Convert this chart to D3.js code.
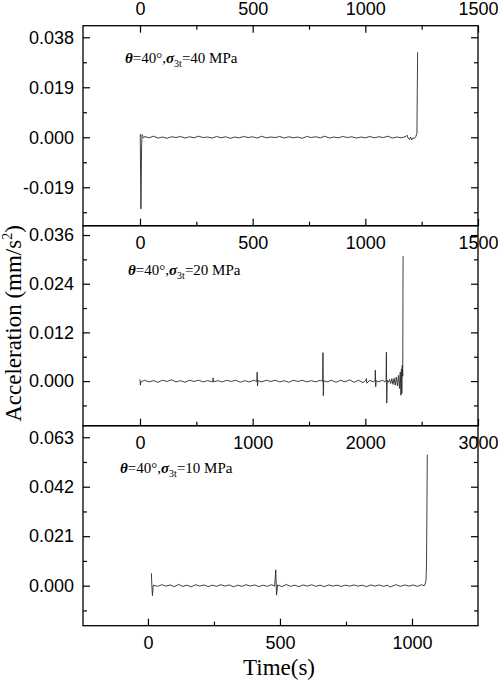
<!DOCTYPE html>
<html>
<head>
<meta charset="utf-8">
<script src="https://cdn.jsdelivr.net/npm/d3@7"></script>
<style>
  body { margin: 0; background: #fff; }
  svg { display: block; }
</style>
</head>
<body>
<div id="chart"></div>
<script>
// Acceleration traces, [time (s), acceleration (mm/s^2)]
const accel40 = [
  [1, 0.0013], [4, -0.0272], [7, -0.0040], [9, 0.0010], [12, 0.0004], [16, -0.0003],
  [20, 0.0003], [40, -0.0002], [60, 0.0004], [80, -0.0003], [100, 0.0001], [120, -0.0004],
  [140, 0.0002], [160, -0.0001], [180, 0.0003], [200, -0.0003], [220, 0.0002], [240, -0.0002],
  [260, 0.0004], [280, -0.0001], [300, 0.0001], [320, -0.0003], [340, 0.0003], [360, -0.0002],
  [380, 0.0002], [400, -0.0004], [420, 0.0001], [440, -0.0002], [460, 0.0003], [480, -0.0001],
  [500, 0.0002], [520, -0.0003], [540, 0.0004], [560, -0.0002], [580, 0.0001], [600, -0.0001],
  [620, 0.0003], [640, -0.0003], [660, 0.0002], [680, -0.0002], [700, 0.0001], [720, -0.0004],
  [740, 0.0003], [760, -0.0001], [780, 0.0002], [800, -0.0002], [820, 0.0004], [840, -0.0003],
  [860, 0.0001], [880, -0.0002], [900, 0.0003], [920, -0.0001], [940, 0.0002], [960, -0.0003],
  [980, 0.0001], [1000, -0.0002], [1020, 0.0003], [1040, -0.0002], [1060, 0.0002], [1080, -0.0001],
  [1100, 0.0004], [1120, -0.0003], [1140, 0.0001], [1160, -0.0002], [1180, 0.0003],
  [1185, 0.0008], [1190, -0.0003], [1196, -0.0009], [1201, 0.0001], [1206, -0.0010],
  [1212, -0.0002], [1218, -0.0004], [1224, 0.0003], [1229, 0.0015], [1232, 0.0323]
];

const accel20 = [
  [0, 0.0004], [3, -0.0010], [8, -0.0002], [40, 0.0002], [80, -0.0002], [120, 0.0001],
  [160, -0.0003], [200, 0.0002], [240, -0.0001], [280, 0.0003], [320, -0.0002], [360, 0.0001],
  [400, -0.0003], [440, 0.0002], [480, -0.0001], [520, 0.0002], [560, -0.0002], [600, 0.0001],
  [645, -0.0002], [649, 0.0008], [653, -0.0002], [690, 0.0001], [730, -0.0002], [770, 0.0002],
  [810, -0.0001], [850, 0.0002], [890, -0.0003], [930, 0.0001], [970, -0.0002], [1010, 0.0002],
  [1037, -0.0001], [1040, 0.0022], [1043, -0.0012], [1047, 0.0001], [1080, -0.0002], [1120, 0.0002],
  [1160, -0.0001], [1200, 0.0002], [1240, -0.0002], [1280, 0.0001], [1320, -0.0003], [1360, 0.0002],
  [1400, -0.0001], [1440, 0.0002], [1480, -0.0002], [1520, 0.0001], [1560, -0.0002], [1600, 0.0002],
  [1621, -0.0001], [1624, 0.0070], [1627, -0.0036], [1631, 0.0001], [1660, -0.0002], [1700, 0.0002],
  [1740, -0.0003], [1780, 0.0002], [1820, -0.0002], [1860, 0.0003], [1900, -0.0003], [1940, 0.0002],
  [1980, -0.0004], [2005, 0.0002], [2009, 0.0006], [2013, -0.0005], [2040, 0.0002], [2070, -0.0002],
  [2086, 0.0001], [2089, 0.0027], [2092, -0.0014], [2096, 0.0001], [2120, -0.0002], [2150, 0.0002],
  [2175, -0.0002], [2184, 0.0002], [2187, 0.0071], [2190, -0.0054], [2194, 0.0002], [2205, -0.0003],
  [2215, 0.0004], [2225, -0.0006], [2235, 0.0006], [2245, -0.0008], [2255, 0.0007], [2265, -0.0010],
  [2275, 0.0010], [2285, -0.0012], [2295, 0.0014], [2303, -0.0018], [2310, 0.0022], [2316, -0.0035],
  [2320, 0.0030], [2324, -0.0030], [2328, 0.0039], [2332, 0.0012], [2335, 0.0308]
];

const accel10 = [
  [13, 0.0053], [15, -0.0005], [17, -0.0042], [20, 0.0002], [36, -0.0003], [52, 0.0004],
  [68, -0.0002], [84, 0.0003], [100, -0.0004], [116, 0.0005], [132, -0.0003], [148, 0.0002],
  [164, -0.0005], [180, 0.0004], [196, -0.0002], [212, 0.0003], [228, -0.0004], [244, 0.0002],
  [260, -0.0003], [276, 0.0004], [292, -0.0002], [308, 0.0003], [324, -0.0005], [340, 0.0002],
  [356, -0.0003], [372, 0.0004], [388, -0.0002], [404, 0.0003], [420, -0.0004], [436, 0.0002],
  [452, -0.0003], [468, 0.0004], [480, -0.0002], [484, 0.0067], [487, -0.0040], [491, 0.0003],
  [508, -0.0004], [524, 0.0005], [540, -0.0003], [556, 0.0002], [572, -0.0004], [588, 0.0003],
  [604, -0.0002], [620, 0.0004], [636, -0.0003], [652, 0.0002], [668, -0.0004], [684, 0.0003],
  [700, -0.0002], [716, 0.0002], [732, -0.0003], [748, 0.0002], [764, -0.0002], [780, 0.0003],
  [796, -0.0002], [812, 0.0002], [828, -0.0004], [844, 0.0003], [860, -0.0002], [876, 0.0003],
  [892, -0.0003], [908, 0.0002], [917, -0.0006], [924, -0.0002], [940, 0.0004], [956, -0.0003],
  [972, 0.0003], [988, -0.0002], [1004, 0.0003], [1020, -0.0003], [1036, 0.0004], [1046, -0.0001],
  [1050, 0.0008], [1053, 0.0022], [1055, 0.0088], [1058, 0.0556]
];

// axis domains and ticks
const xDomains = [[-253, 1500], [-506, 3000], [-246, 1250]];
const yDomains = [[-0.0336, 0.0424], [-0.0110, 0.0383], [-0.0170, 0.0679]];
const xMajor = [[0, 500, 1000, 1500], [0, 1000, 2000, 3000], [0, 500, 1000]];
const xMinor = [[250, 750, 1250], [500, 1500, 2500], [250, 750]];
const yMajor = [[-0.019, 0, 0.019, 0.038], [0, 0.012, 0.024, 0.036], [0, 0.021, 0.042, 0.063]];
const yMinor = [[-0.0285, -0.0095, 0.0095, 0.0285], [-0.006, 0.006, 0.018, 0.030], [-0.0105, 0.0105, 0.0315, 0.0525]];
const stressLabels = ["40", "20", "10"];

const width = 498;
const height = 686;
const left = 83, right = 478;
const panelTops = [25.7, 225.7, 425.7];
const panelH = 200;

const svg = d3.select("#chart").append("svg")
  .attr("width", width)
  .attr("height", height);

const series = [accel40, accel20, accel10];
const labelPos = [[125, 63], [128, 275], [120, 473]];

series.forEach((data, i) => {
  const top = panelTops[i];
  const x = d3.scaleLinear().domain(xDomains[i]).range([left, right]);
  const y = d3.scaleLinear().domain(yDomains[i]).range([top + panelH, top]);

  const g = svg.append("g");

  g.append("clipPath").attr("id", "clip" + i)
    .append("rect")
    .attr("x", left).attr("y", top)
    .attr("width", right - left).attr("height", panelH);

  // trace
  g.append("path")
    .datum(data)
    .attr("clip-path", `url(#clip${i})`)
    .attr("fill", "none")
    .attr("stroke", "#2a2a2a")
    .attr("stroke-width", 0.9)
    .attr("d", d3.line().x(d => x(d[0])).y(d => y(d[1])));

  const fmtY = d => d.toFixed(3);
  const fmtX = d => String(d);

  // left axis, ticks inward
  g.append("g").attr("transform", `translate(${left},0)`)
    .call(d3.axisLeft(y).tickValues(yMajor[i]).tickFormat(fmtY).tickSizeInner(-7).tickSizeOuter(0).tickPadding(9));
  g.append("g").attr("transform", `translate(${left},0)`)
    .call(d3.axisLeft(y).tickValues(yMinor[i]).tickFormat("").tickSizeInner(-4).tickSizeOuter(0));

  // right axis, ticks inward, no labels
  g.append("g").attr("transform", `translate(${right},0)`)
    .call(d3.axisRight(y).tickValues(yMajor[i]).tickFormat("").tickSizeInner(-7).tickSizeOuter(0));
  g.append("g").attr("transform", `translate(${right},0)`)
    .call(d3.axisRight(y).tickValues(yMinor[i]).tickFormat("").tickSizeInner(-4).tickSizeOuter(0));

  // bottom axis, ticks inward
  g.append("g").attr("transform", `translate(0,${top + panelH})`)
    .call(d3.axisBottom(x).tickValues(xMajor[i]).tickFormat(fmtX).tickSizeInner(-7).tickSizeOuter(0).tickPadding(11));
  g.append("g").attr("transform", `translate(0,${top + panelH})`)
    .call(d3.axisBottom(x).tickValues(xMinor[i]).tickFormat("").tickSizeInner(-4).tickSizeOuter(0));

  // top panel also carries a labelled top axis
  if (i === 0) {
    g.append("g").attr("transform", `translate(0,${top})`)
      .call(d3.axisTop(x).tickValues(xMajor[i]).tickFormat(fmtX).tickSizeInner(-7).tickSizeOuter(0).tickPadding(10.5));
    g.append("g").attr("transform", `translate(0,${top})`)
      .call(d3.axisTop(x).tickValues(xMinor[i]).tickFormat("").tickSizeInner(-4).tickSizeOuter(0));
  }

  // frame
  g.append("rect")
    .attr("x", left).attr("y", top)
    .attr("width", right - left).attr("height", panelH)
    .attr("fill", "none")
    .attr("stroke", "#000")
    .attr("stroke-width", 1.3);

  // condition label
  const t = g.append("text")
    .attr("x", labelPos[i][0]).attr("y", labelPos[i][1])
    .attr("font-family", "'Liberation Serif', 'Times New Roman', serif")
    .attr("font-size", 15)
    .attr("fill", "#000");
  t.append("tspan").attr("font-weight", "bold").attr("font-style", "italic").text("θ");
  t.append("tspan").text("=40°,");
  t.append("tspan").attr("font-weight", "bold").attr("font-style", "italic").text("σ");
  t.append("tspan").attr("font-size", 10).attr("dy", 4).text("3t");
  t.append("tspan").attr("dy", -4).text(`=${stressLabels[i]} MPa`);
});

svg.selectAll(".tick text")
  .attr("font-family", "'Liberation Sans', Arial, sans-serif")
  .attr("font-size", 18)
  .attr("fill", "#000");
svg.selectAll(".domain").remove();
svg.selectAll(".tick line").attr("stroke", "#000").attr("stroke-width", 1.2);

// axis titles
const yTitle = svg.append("text")
  .attr("transform", "translate(21,323.5) rotate(-90)")
  .attr("text-anchor", "middle")
  .attr("font-family", "'Liberation Serif', 'Times New Roman', serif")
  .attr("font-size", 23)
  .attr("fill", "#000");
yTitle.append("tspan").text("Acceleration (mm/s");
yTitle.append("tspan").attr("font-size", 14).attr("dy", -9).text("2");
yTitle.append("tspan").attr("dy", 9).text(")");

svg.append("text")
  .attr("x", 279).attr("y", 675)
  .attr("text-anchor", "middle")
  .attr("font-family", "'Liberation Serif', 'Times New Roman', serif")
  .attr("font-size", 23)
  .attr("fill", "#000")
  .text("Time(s)");
</script>
</body>
</html>
